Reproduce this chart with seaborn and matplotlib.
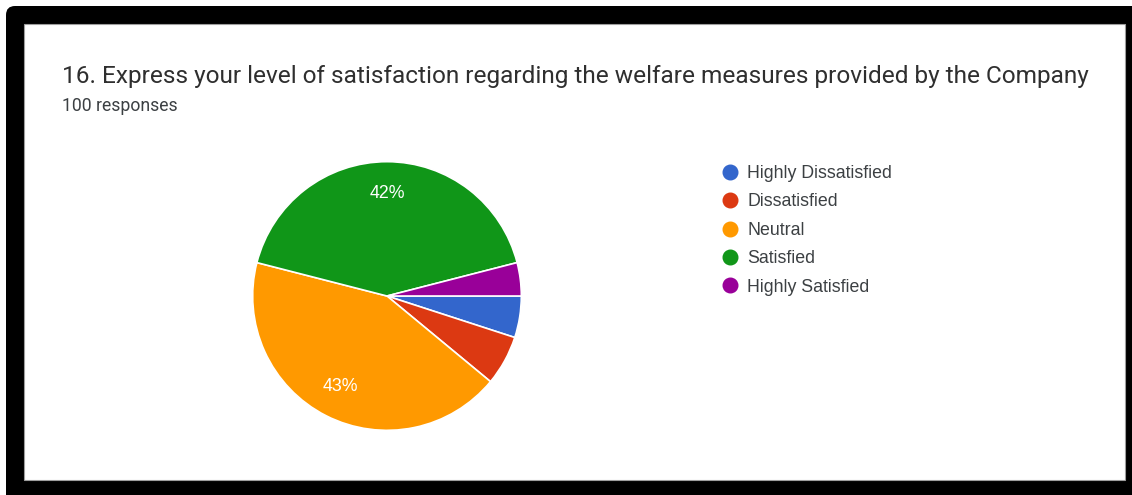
import matplotlib
matplotlib.use("Agg")
import matplotlib.pyplot as plt
from matplotlib.patches import FancyBboxPatch, Rectangle
from matplotlib.lines import Line2D
import seaborn as sns

# Survey results (percent of 100 responses)
categories = ["Highly Dissatisfied", "Dissatisfied", "Neutral", "Satisfied", "Highly Satisfied"]
shares = [5, 6, 43, 42, 4]
colors = ["#3366CC", "#DC3912", "#FF9900", "#109618", "#990099"]
title = "16. Express your level of satisfaction regarding the welfare measures provided by the Company"
subtitle = "100 responses"

sns.set_theme(style="white")
plt.rcParams["font.family"] = ["Roboto", "DejaVu Sans"]

W, H = 1132, 495
fig = plt.figure(figsize=(W / 100, H / 100), dpi=100)
fig.patch.set_facecolor("white")

# dark frame (runs off the right and bottom edges) with a white card inside,
# laid out in inches so the corner rounding stays circular
frame = FancyBboxPatch((0.06, -0.3), W / 100 + 0.3, H / 100 - 0.06 + 0.3,
                       boxstyle="round,pad=0,rounding_size=0.09",
                       transform=fig.dpi_scale_trans, facecolor="black",
                       edgecolor="none", zorder=0)
fig.patches.append(frame)
card = Rectangle((24 / W, (H - 480) / H), (1125 - 24) / W, (480 - 24) / H,
                 transform=fig.transFigure, facecolor="white",
                 edgecolor="#9e9e9e", linewidth=0.8, zorder=1)
fig.patches.append(card)

fig.text(62 / W, 1 - 76 / H, title, fontsize=17.6, color="#2f2f2f",
         va="center", ha="left", zorder=3)
fig.text(62 / W, 1 - 106 / H, subtitle, fontsize=12.7, color="#3c4043",
         va="center", ha="left", zorder=3)

# pie
cx, cy, r = 387, H - 296, 135
ax = fig.add_axes([(cx - r) / W, (cy - r) / H, 2 * r / W, 2 * r / H])
ax.set_zorder(2)


def pct_label(p):
    return f"{p:.0f}%" if p >= 10 else ""


wedges, texts, autotexts = ax.pie(
    shares, colors=colors, startangle=0, counterclock=False,
    autopct=pct_label, pctdistance=0.76,
    wedgeprops=dict(edgecolor="white", linewidth=1.2),
    textprops=dict(color="white", fontsize=12.8, family=["Liberation Sans", "DejaVu Sans"]),
)
ax.set_xlim(-1.005, 1.005)
ax.set_ylim(-1.005, 1.005)
ax.set_aspect("equal")
ax.axis("off")

handles = [Line2D([], [], marker="o", linestyle="none", markersize=10.5,
                  markerfacecolor=c, markeredgecolor=c) for c in colors]
leg = fig.legend(handles, categories, loc="upper left",
                 bbox_to_anchor=(721 / W, 1 - 165 / H), frameon=False,
                 labelspacing=0.64, handletextpad=0.47,
                 handlelength=1.0, borderaxespad=0, borderpad=0,
                 prop=dict(family=["Liberation Sans", "DejaVu Sans"], size=12.8))
for t in leg.get_texts():
    t.set_color("#3c4043")
leg.set_zorder(4)

fig.savefig("out.png", dpi=100, facecolor="white")
